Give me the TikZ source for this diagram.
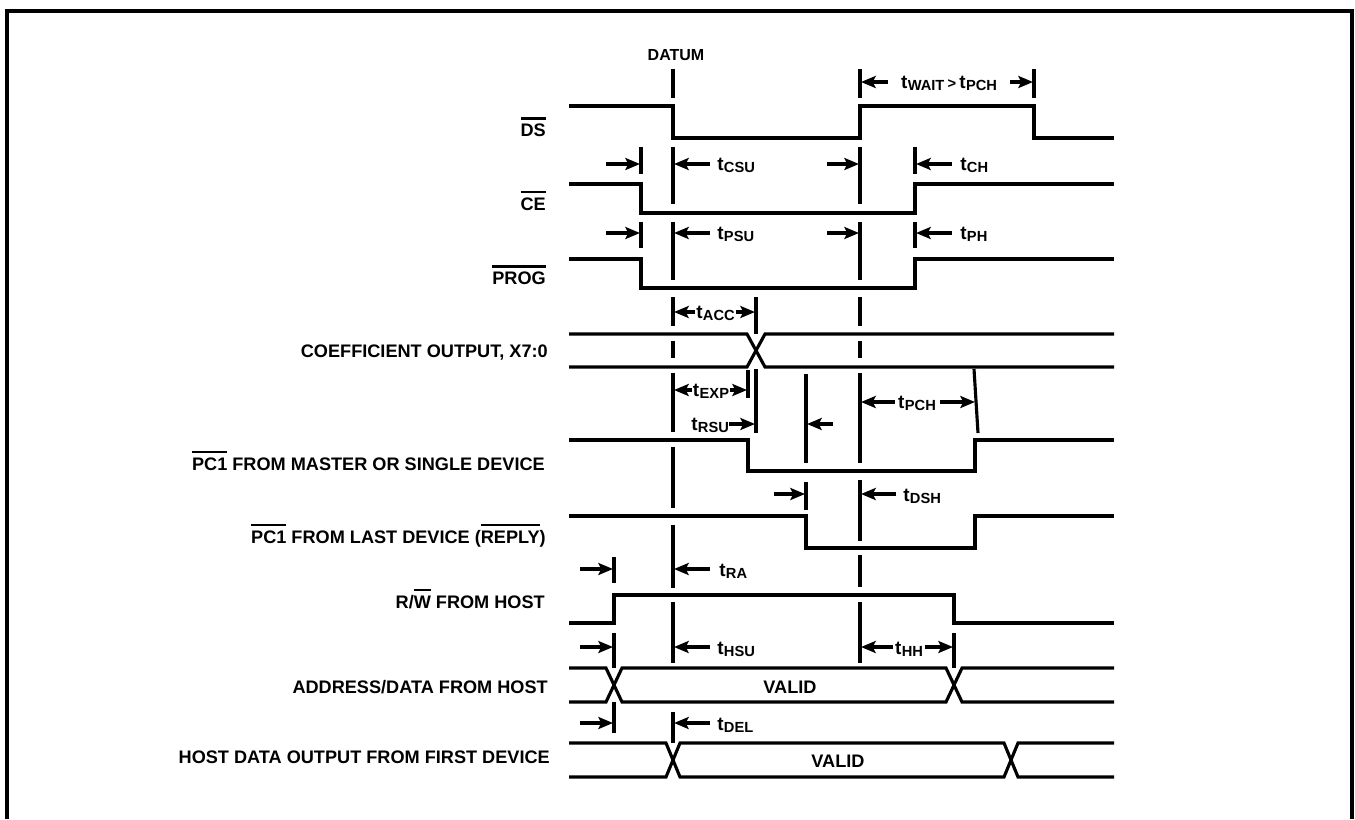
\documentclass[tikz,border=0pt]{standalone}
\usepackage{fontspec}
\setmainfont{Liberation Sans}
\usetikzlibrary{arrows.meta}
\newcommand{\lblfont}{\fontsize{13.6pt}{16pt}\selectfont\bfseries}
\newcommand{\tfont}{\fontsize{14.2pt}{16pt}\selectfont\bfseries}
\newcommand{\subsz}{\fontsize{11pt}{12pt}\selectfont}
\newcommand{\ovl}[1]{\leavevmode\vbox{\hrule height 1.8pt\kern 3.2pt\hbox{#1}}}
\newcommand{\tlab}[1]{t\kern0.3pt\raisebox{-1.8pt}{\subsz #1}}
\begin{document}
\begin{tikzpicture}[x=0.75pt,y=-0.75pt,
  sig/.style={line width=2.35pt, line join=miter, line cap=butt},
  vln/.style={line width=2.35pt, line cap=butt},
  arr/.style={line width=2.35pt, -{Stealth[length=11pt,width=9pt,inset=2.2pt]}},
  lbl/.style={anchor=base east, inner sep=0pt, font=\lblfont},
  tl/.style={anchor=base west, inner sep=0pt, font=\tfont},
  tc/.style={anchor=base, inner sep=0pt, font=\tfont},
  vc/.style={anchor=base, inner sep=0pt, font=\lblfont}]
\useasboundingbox (0,0) rectangle (1355,819);
% frame
\draw[line width=3pt, line join=miter] (7,819) -- (7,11) -- (1352,11) -- (1352,819);

% signal names
\node[lbl] (lds) at (546,136.5) {\ovl{DS}};
\node[lbl] (lce) at (546,210) {\ovl{CE}};
\node[lbl] (lprog) at (546,284.5) {\ovl{PROG}};
\node[lbl] (lcoef) at (548,357) {COEFFICIENT OUTPUT, X7:0};
\node[lbl] (lpm) at (545,470) {\ovl{PC1} FROM MASTER OR SINGLE DEVICE};
\node[lbl] (lpl) at (546,543) {\ovl{PC1} FROM LAST DEVICE (\ovl{REPLY})};
\node[lbl] (lrw) at (545,608) {R/\ovl{W} FROM HOST};
\node[lbl] (lad) at (548,693) {ADDRESS/DATA FROM HOST};
\node[lbl] (lhd) at (550,763) {HOST DATA OUTPUT FROM FIRST DEVICE};
\node[anchor=base, inner sep=0pt, font=\fontsize{12pt}{14pt}\selectfont\bfseries] (datum) at (676,60.7) {DATUM};

% waveforms
\draw[sig] (569,106) -- (673,106) -- (673,138) -- (860,138) -- (860,106) -- (1034,106) -- (1034,138) -- (1114,138);
\draw[sig] (569,184) -- (641,184) -- (641,213) -- (915,213) -- (915,184) -- (1114,184);
\draw[sig] (569,259) -- (641,259) -- (641,288) -- (915,288) -- (915,259) -- (1114,259);
\draw[sig] (569,334) -- (747,334) -- (765,367) -- (1114,367);
\draw[sig] (569,367) -- (747,367) -- (765,334) -- (1114,334);
\draw[sig] (569,440) -- (748,440) -- (748,471) -- (975,471) -- (975,440) -- (1114,440);
\draw[sig] (569,516) -- (806,516) -- (806,548) -- (975,548) -- (975,516) -- (1114,516);
\draw[sig] (569,623) -- (614,623) -- (614,595) -- (954,595) -- (954,623) -- (1114,623);
\draw[sig] (569,668) -- (606,668) -- (622,702) -- (946,702) -- (962,668) -- (1114,668);
\draw[sig] (569,702) -- (606,702) -- (622,668) -- (946,668) -- (962,702) -- (1114,702);
\draw[sig] (569,743) -- (666,743) -- (680,777) -- (1004,777) -- (1018,743) -- (1114,743);
\draw[sig] (569,777) -- (666,777) -- (680,743) -- (1004,743) -- (1018,777) -- (1114,777);
\node[vc] (v1) at (790,693) {VALID};
\node[vc] (v2) at (838,767) {VALID};

% reference lines (broken where they cross a level)
\foreach \a/\b in {69/98,147/204,222/280,297/326,341/358,373/432,447/508,525/588,602/663,712/743}
  \draw[vln] (673,\a) -- (673,\b);
\foreach \a/\b in {69/98,147/204,222/280,297/326,341/358,373/463,480/541,555/587,602/663}
  \draw[vln] (860,\a) -- (860,\b);
\draw[vln] (1034,69) -- (1034,98);
\foreach \a/\b in {147/174,222/248} {
  \draw[vln] (641,\a) -- (641,\b);
  \draw[vln] (915,\a) -- (915,\b);}
\draw[vln] (756,297) -- (756,334);
\draw[vln] (756,369) -- (756,433);
\draw[vln] (748,370) -- (748,398);
\draw[vln] (806,374) -- (806,463);
\draw[vln] (806,482) -- (806,510);
\draw[vln] (974,369) -- (978,433);
\foreach \a/\b in {557/583,633/668,702/733}
  \draw[vln] (614,\a) -- (614,\b);
\draw[vln] (954,633) -- (954,668);

% timing annotations
\node[tc] (twait) at (949,88) {\tlab{WAIT}\,{\subsz>}\,\tlab{PCH}};
\draw[arr] (888,82) -- (861,82);
\draw[arr] (1010,82) -- (1033,82);

\draw[arr] (606,164) -- (640,164);
\node[tl] (tcsu) at (717,170) {\tlab{CSU}};
\draw[arr] (710,164) -- (674,164);
\draw[arr] (827,164) -- (859,164);
\node[tl] (tch) at (960,170) {\tlab{CH}};
\draw[arr] (952,164) -- (916,164);

\draw[arr] (606,233) -- (640,233);
\node[tl] (tpsu) at (717,239) {\tlab{PSU}};
\draw[arr] (710,233) -- (674,233);
\draw[arr] (827,233) -- (859,233);
\node[tl] (tph) at (960,239) {\tlab{PH}};
\draw[arr] (952,233) -- (916,233);

\node[tc] (tacc) at (715.5,318) {\tlab{ACC}};
\draw[arr] (695,312) -- (674,312);
\draw[arr] (736,312) -- (755,312);

\node[tc] (texp) at (711,396) {\tlab{EXP}};
\draw[arr] (692,390) -- (674,390);
\draw[arr] (730,390) -- (747,390);

\node[tl] (trsu) at (691,430) {\tlab{RSU}};
\draw[arr] (729,424) -- (755,424);
\draw[arr] (833,424) -- (807,424);

\node[tc] (tpch) at (917,408) {\tlab{PCH}};
\draw[arr] (895,402) -- (861,402);
\draw[arr] (940,402) -- (975,402);

\draw[arr] (774,494) -- (805,494);
\node[tl] (tdsh) at (903,501) {\tlab{DSH}};
\draw[arr] (896,494) -- (861,494);

\draw[arr] (580,569) -- (613,569);
\node[tl] (tra) at (719,576) {\tlab{RA}};
\draw[arr] (710,569) -- (674,569);

\draw[arr] (580,647) -- (613,647);
\node[tl] (thsu) at (717,654) {\tlab{HSU}};
\draw[arr] (710,647) -- (674,647);
\node[tc] (thh) at (909,654) {\tlab{HH}};
\draw[arr] (893,647) -- (861,647);
\draw[arr] (925,647) -- (953,647);

\draw[arr] (580,723) -- (613,723);
\node[tl] (tdel) at (717,730) {\tlab{DEL}};
\draw[arr] (710,723) -- (674,723);
\end{tikzpicture}
\end{document}
